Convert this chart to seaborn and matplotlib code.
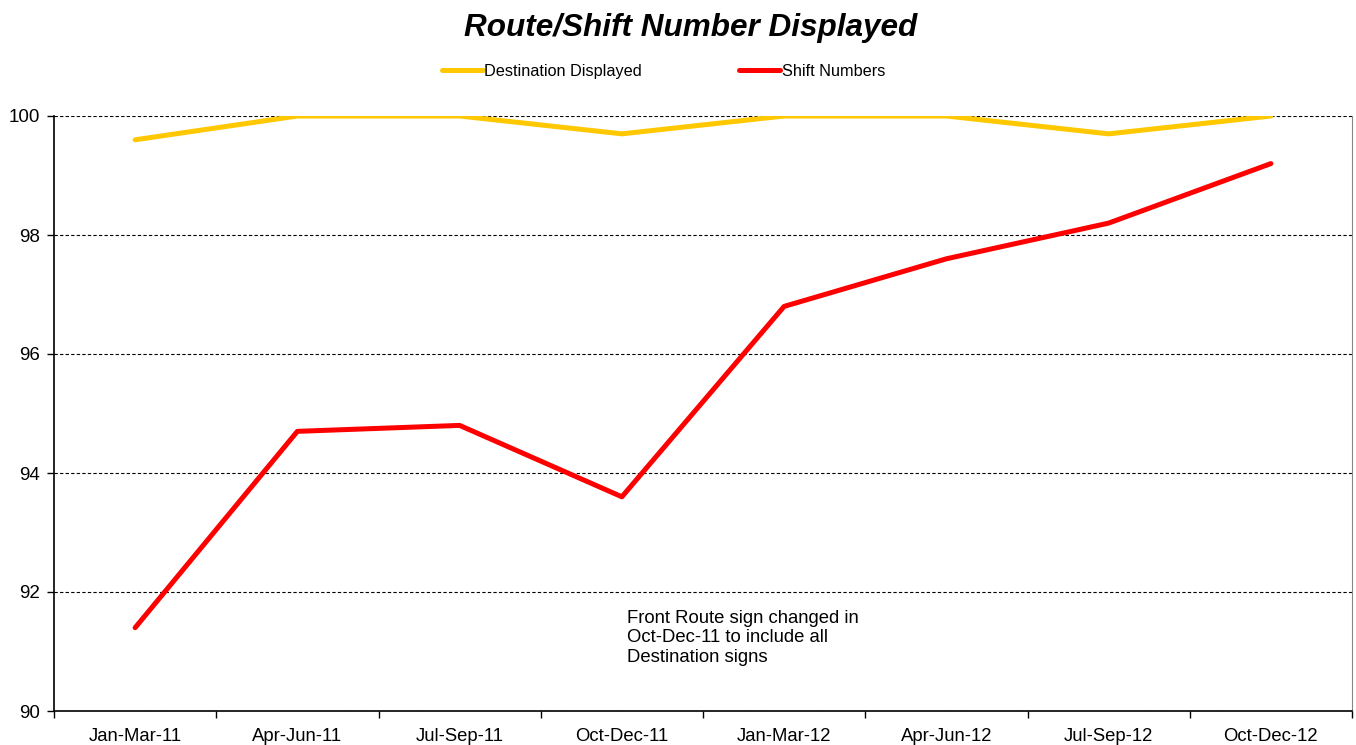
import pandas as pd
import matplotlib.pyplot as plt
import seaborn as sns
from matplotlib.ticker import FixedLocator

sns.set_style("white")
plt.rcParams['font.family'] = ['Liberation Sans', 'DejaVu Sans']
plt.rcParams['text.color'] = 'black'
plt.rcParams['xtick.color'] = 'black'
plt.rcParams['ytick.color'] = 'black'

quarters = ['Jan-Mar-11', 'Apr-Jun-11', 'Jul-Sep-11', 'Oct-Dec-11',
            'Jan-Mar-12', 'Apr-Jun-12', 'Jul-Sep-12', 'Oct-Dec-12']
destination = [99.6, 100, 100, 99.7, 100, 100, 99.7, 100]
shift_numbers = [91.4, 94.7, 94.8, 93.6, 96.8, 97.6, 98.2, 99.2]

df = pd.DataFrame({
    'Quarter': quarters * 2,
    'Pos': list(range(len(quarters))) * 2,
    'Value': destination + shift_numbers,
    'Series': ['Destination Displayed'] * len(quarters) + ['Shift Numbers'] * len(quarters),
})

fig = plt.figure(figsize=(13.56, 7.45), dpi=100)
ax = fig.add_axes([54 / 1356, 34 / 745, 1298 / 1356, 595 / 745])

sns.lineplot(
    data=df, x='Pos', y='Value', hue='Series',
    palette={'Destination Displayed': '#FFC800', 'Shift Numbers': '#FF0000'},
    linewidth=3.6, ax=ax, legend=True
)

ax.set_xlim(-0.5, len(quarters) - 0.5)
ax.set_ylim(90, 100)
ax.set_yticks([90, 92, 94, 96, 98, 100])
ax.set_xticks(range(len(quarters)))
ax.set_xticklabels(quarters)
ax.xaxis.set_minor_locator(FixedLocator([i - 0.5 for i in range(len(quarters) + 1)]))
ax.tick_params(axis='x', which='major', length=0, labelsize=13.3, pad=12)
ax.tick_params(axis='x', which='minor', length=5, width=1, direction='out', bottom=True)
ax.tick_params(axis='y', length=5, width=1, direction='out', left=True, labelsize=13.5, pad=5)
ax.set_xlabel('')
ax.set_ylabel('')

ax.yaxis.grid(True, linestyle=(0, (3, 2)), color='black', linewidth=0.8)
for v in ['left', 'bottom']:
    ax.spines[v].set_color('black')
    ax.spines[v].set_linewidth(1.2)
ax.spines['right'].set_color('#888888')
ax.spines['top'].set_visible(False)

ax.text(3.03, 91.7, 'Front Route sign changed in\nOct-Dec-11 to include all\nDestination signs',
        fontsize=13.3, va='top', ha='left', linespacing=1.2)

leg = ax.legend(loc='center', bbox_to_anchor=(0.4696, 1.075), ncol=2, frameon=False,
                fontsize=11.7, handlelength=2.5, handletextpad=0.1, columnspacing=6.0)

fig.suptitle('Route/Shift Number Displayed', fontsize=22.7, fontweight='bold',
             fontstyle='italic', x=0.509, y=0.982)

fig.savefig('out.png', dpi=100)
